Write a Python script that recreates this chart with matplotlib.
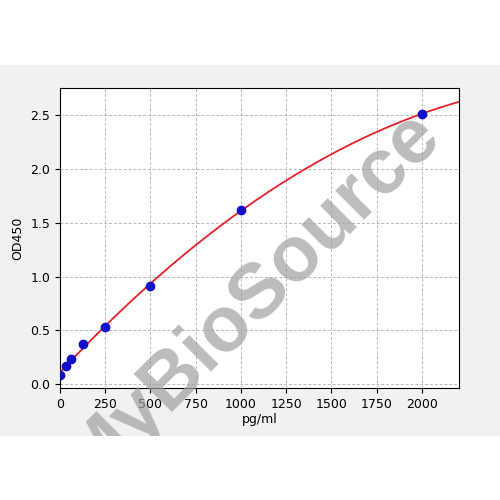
import numpy as np
import matplotlib
matplotlib.use("Agg")
import matplotlib.pyplot as plt
from matplotlib.patches import Rectangle

conc = [0, 31.25, 62.5, 125, 250, 500, 1000, 2000]
od = [0.09, 0.17, 0.23, 0.37, 0.53, 0.91, 1.62, 2.51]
xticks = [0, 250, 500, 750, 1000, 1250, 1500, 1750, 2000]
yticks = [0.0, 0.5, 1.0, 1.5, 2.0, 2.5]

fig = plt.figure(figsize=(5, 5), dpi=100, facecolor="white")
band = Rectangle((0, 0.128), 1, 0.742, transform=fig.transFigure,
                 facecolor="#f1f1f1", edgecolor="none", zorder=-10)
fig.patches.append(band)
ax = fig.add_axes([0.12, 0.224, 0.798, 0.6])

coef = np.polyfit(conc, od, 2, w=np.sqrt(od))
xs = np.linspace(0, 2205, 300)
ax.plot(xs, np.polyval(coef, xs), color="#e8202a", lw=1.3, zorder=3)
ax.plot(conc, od, "o", color="#1010c8", ms=6, zorder=4)

ax.set_xlim(0, 2205)
ax.set_ylim(-0.035, 2.75)
ax.set_xticks(xticks)
ax.set_yticks(yticks)
ax.grid(True, linestyle=(0, (3, 2)), color="#b8b8b8", lw=0.7)
ax.set_xlabel("pg/ml", fontsize=9, labelpad=2)
ax.set_ylabel("OD450", fontsize=9)
ax.tick_params(labelsize=9)

wm = fig.text(0.505, 0.405, "MyBioSource", fontsize=56, fontweight="bold",
              family="Liberation Sans",
              color="#a0a0a0", alpha=0.7, rotation=45, ha="center", va="center",
              zorder=10)
wm.set_clip_path(band)

fig.savefig("out.png", dpi=100, facecolor=fig.get_facecolor())
